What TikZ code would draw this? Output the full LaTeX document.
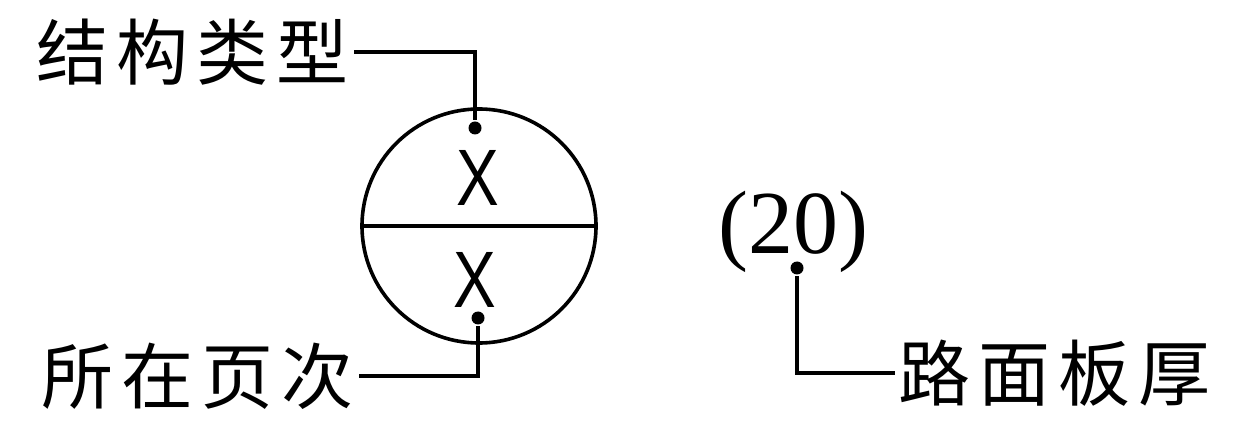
\documentclass[tikz,border=0pt]{standalone}
\usepackage{fontspec}
\newfontfamily\cjk[LetterSpace=11]{Noto Sans CJK SC}
\newfontfamily\numfont{Liberation Serif}
\newfontfamily\markfont{Liberation Sans}
\usepackage{xcolor}
\definecolor{ink}{HTML}{000000}
\usetikzlibrary{positioning}

\begin{document}
\begin{tikzpicture}[
  x=0.5pt, y=-0.5pt,
  line width=1.8pt, draw=ink,
  tag/.style={inner sep=0pt, text=ink, font=\fontsize{36}{36}\cjk},
  xmark/.style={inner sep=0pt, text=ink, font=\fontsize{40}{40}\markfont},
  dot/.style={circle, fill=ink, inner sep=0pt, minimum size=6.5pt},
  leader/.style={draw=ink, line width=1.8pt}
]
  \useasboundingbox (0,0) rectangle (1236,432);
  % symbol
  \node[circle, draw=ink, line width=1.8pt, inner sep=0pt, minimum size=117pt] (sym) at (479,226) {};
  \draw (sym.west) -- (sym.east);
  \node[xmark] (upx) at (478,178) {\scalebox{0.8}[1]{X}};
  \node[xmark] (lowx) at (475,280) {\scalebox{0.8}[1]{X}};
  \node[dot] (topdot) at (475,128) {};
  \node[dot] (botdot) at (478,318) {};
  % labels
  \node[tag, anchor=west] (type) at (35,52) {结构类型};
  \node[tag, anchor=west] (page) at (40,376) {所在页次};
  \node[inner sep=0pt, text=ink, font=\fontsize{45}{45}\numfont] (thick) at (793,232) {(20)};
  \node[dot] (thickdot) at (797,268) {};
  \node[tag, anchor=west] (slab) at (897,373) {路面板厚};
  % leaders
  \draw[leader] ([xshift=2pt]type.east) -| (topdot);
  \draw[leader] ([xshift=2pt]page.east) -| (botdot);
  \draw[leader] (thickdot) |- ([xshift=-1pt]slab.west);
\end{tikzpicture}
\end{document}
